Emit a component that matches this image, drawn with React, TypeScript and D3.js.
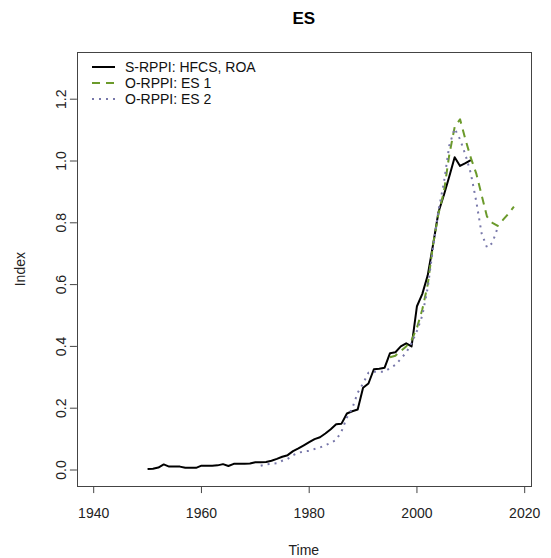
import { scaleLinear, line } from 'd3';

// S-RPPI: HFCS, ROA (annual, 1950-2010)
const srppiYears = [
  1950, 1951, 1952, 1953, 1954, 1955, 1956, 1957, 1958, 1959,
  1960, 1961, 1962, 1963, 1964, 1965, 1966, 1967, 1968, 1969,
  1970, 1971, 1972, 1973, 1974, 1975, 1976, 1977, 1978, 1979,
  1980, 1981, 1982, 1983, 1984, 1985, 1986, 1987, 1988, 1989,
  1990, 1991, 1992, 1993, 1994, 1995, 1996, 1997, 1998, 1999,
  2000, 2001, 2002, 2003, 2004, 2005, 2006, 2007, 2008, 2009, 2010,
];
const srppiValues = [
  0.003, 0.004, 0.008, 0.018, 0.011, 0.011, 0.011, 0.007, 0.007, 0.007,
  0.014, 0.014, 0.014, 0.015, 0.019, 0.013, 0.02, 0.02, 0.02, 0.021,
  0.025, 0.025, 0.026, 0.03, 0.036, 0.043, 0.048, 0.061, 0.07, 0.08,
  0.09, 0.1, 0.106, 0.118, 0.132, 0.148, 0.15, 0.183, 0.19, 0.196,
  0.266, 0.28, 0.326, 0.328, 0.331, 0.378, 0.381, 0.4, 0.41, 0.4,
  0.53, 0.57, 0.63, 0.73, 0.835, 0.89, 0.95, 1.012, 0.984, 0.993, 1.003,
];

// O-RPPI: ES 1 (1995-2018)
const es1Years = [
  1995, 1996, 1997, 1998, 1999, 2000, 2001, 2002, 2003, 2004, 2005, 2006,
  2007, 2008, 2009, 2010, 2011, 2012, 2013, 2014, 2015, 2016, 2017, 2018,
];
const es1Values = [
  0.365, 0.37, 0.385, 0.4, 0.42, 0.46, 0.52, 0.6, 0.73, 0.83, 0.9, 1.02,
  1.11, 1.135, 1.07, 1.01, 0.96, 0.89, 0.82, 0.8, 0.79, 0.81, 0.83, 0.852,
];

// O-RPPI: ES 2 (1971-2015)
const es2Years = [
  1971, 1972, 1973, 1974, 1975, 1976, 1977, 1978, 1979, 1980,
  1981, 1982, 1983, 1984, 1985, 1986, 1987, 1988, 1989, 1990,
  1991, 1992, 1993, 1994, 1995, 1996, 1997, 1998, 1999, 2000,
  2001, 2002, 2003, 2004, 2005, 2006, 2007, 2008, 2009, 2010,
  2011, 2012, 2013, 2014, 2015,
];
const es2Values = [
  0.014, 0.018, 0.02, 0.022, 0.03, 0.036, 0.048, 0.056, 0.06, 0.062,
  0.068, 0.073, 0.08, 0.088, 0.097, 0.125, 0.17, 0.2, 0.25, 0.28,
  0.315, 0.318, 0.318, 0.318, 0.33, 0.34, 0.36, 0.38, 0.41, 0.45,
  0.5, 0.59, 0.72, 0.84, 0.93, 1.05, 1.105, 1.07, 1.02, 0.96,
  0.87, 0.766, 0.72, 0.735, 0.785,
];

const xTicks = [1940, 1960, 1980, 2000, 2020];
const yTicks = [0, 0.2, 0.4, 0.6, 0.8, 1.0, 1.2];
const legendLabels = ['S-RPPI: HFCS, ROA', 'O-RPPI: ES 1', 'O-RPPI: ES 2'];

const font = 'Liberation Sans, Arial, sans-serif';

export default function App() {
  const width = 551;
  const height = 558;

  // R style axis: limits 1940..2018, 0..1.3 extended by 4%
  const x = scaleLinear().domain([1940, 2020]).range([93.7, 524.7]);
  const y = scaleLinear().domain([0, 1.2]).range([470, 99.2]);

  const x0 = x(1940 - 78 * 0.04);
  const x1 = x(2018 + 78 * 0.04);
  const y0 = y(-1.3 * 0.04);
  const y1 = y(1.3 * 1.04);

  const mk = (ys: number[], vs: number[]) =>
    line<number>()
      .x((_, i) => x(ys[i]))
      .y((d) => y(d))(vs) || '';

  const series = [
    { d: mk(srppiYears, srppiValues), color: '#000000', dash: undefined },
    { d: mk(es1Years, es1Values), color: '#6B9A2B', dash: '8,6' },
    { d: mk(es2Years, es2Values), color: '#7878AA', dash: '2,5' },
  ];

  const legX = 92;
  const legY = [67, 83, 99];

  return (
    <svg
      width={width}
      height={height}
      style={{ position: 'absolute', left: 0, top: 0, background: '#fff' }}
      fontFamily={font}
    >
      <rect x={0} y={0} width={width} height={height} fill="#fff" />
      <text x={(x0 + x1) / 2} y={24} textAnchor="middle" fontSize={17} fontWeight="bold">
        ES
      </text>

      {series.map((s, i) => (
        <path
          key={i}
          d={s.d}
          fill="none"
          stroke={s.color}
          strokeWidth={2}
          strokeDasharray={s.dash}
          strokeLinejoin="round"
        />
      ))}

      <rect
        x={Math.round(x0) + 0.5}
        y={Math.round(y1) + 0.5}
        width={Math.round(x1) - Math.round(x0)}
        height={Math.round(y0) - Math.round(y1)}
        fill="none"
        stroke="#444"
        strokeWidth={1}
      />

      {xTicks.map((t) => (
        <g key={t}>
          <line x1={x(t)} x2={x(t)} y1={y0} y2={y0 + 7} stroke="#444" />
          <text x={x(t)} y={518} textAnchor="middle" fontSize={14} fill="#222">
            {t}
          </text>
        </g>
      ))}
      {yTicks.map((t) => (
        <g key={t}>
          <line x1={x0 - 7} x2={x0} y1={y(t)} y2={y(t)} stroke="#444" />
          <text
            transform={`translate(66,${y(t)}) rotate(-90)`}
            textAnchor="middle"
            fontSize={14}
            fill="#222"
          >
            {t.toFixed(1)}
          </text>
        </g>
      ))}

      <text x={(x0 + x1) / 2} y={555} textAnchor="middle" fontSize={14} fill="#222">
        Time
      </text>
      <text
        transform={`translate(25,${(y0 + y1) / 2}) rotate(-90)`}
        textAnchor="middle"
        fontSize={14}
        fill="#222"
      >
        Index
      </text>

      {legendLabels.map((lab, i) => (
        <g key={lab}>
          <line
            x1={legX}
            x2={legX + 23}
            y1={legY[i]}
            y2={legY[i]}
            stroke={series[i].color}
            strokeWidth={2}
            strokeDasharray={series[i].dash}
          />
          <text x={125} y={legY[i] + 5} fontSize={14} fill="#111">
            {lab}
          </text>
        </g>
      ))}
    </svg>
  );
}
